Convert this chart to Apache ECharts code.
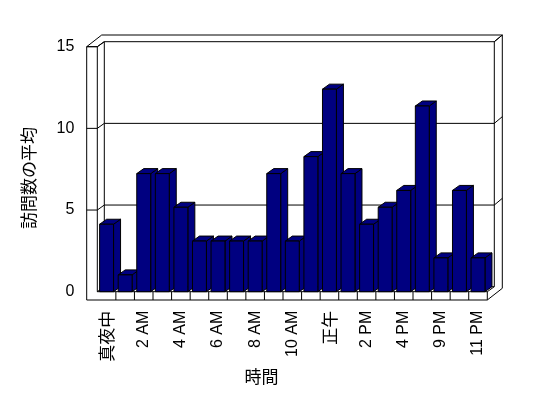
<!DOCTYPE html>
<html>
<head>
<meta charset="utf-8">
<script src="https://cdn.jsdelivr.net/npm/echarts@6/dist/echarts.min.js"></script>
<style>
  html, body { margin: 0; padding: 0; background: #fff; }
  #chart { width: 548px; height: 398px; }
</style>
</head>
<body>
<div id="chart"></div>
<script>
// datos
const horas = ['真夜中', '1 AM', '2 AM', '3 AM', '4 AM', '5 AM', '6 AM', '7 AM', '8 AM', '9 AM',
  '10 AM', '11 AM', '正午', '1 PM', '2 PM', '3 PM', '4 PM', '5 PM', '9 PM', '10 PM', '11 PM'];
const visitas = [4.13, 1.03, 7.23, 7.23, 5.17, 3.1, 3.1, 3.1, 3.1, 7.23, 3.1,
  8.27, 12.4, 7.23, 4.13, 5.17, 6.2, 11.37, 2.07, 6.2, 2.07];
const yTicks = [0, 5, 10, 15];

const DX = 7, DY = -5;        // profundidad
const BX = 8, BY = -6.7;      // grosor pared del fondo
const WALL = 10.6, FLOOR = 8.3;
const stroke = { stroke: '#000', lineWidth: 1 };

function line(pts) {
  return { type: 'polyline', shape: { points: pts }, style: Object.assign({ fill: null }, stroke) };
}

// paredes, suelo y rejilla
function renderFrame(params, api) {
  const cs = params.coordSys;
  const L = cs.x, R = cs.x + cs.width, T = cs.y, B = cs.y + cs.height;
  const children = [];
  children.push({
    type: 'polygon',
    shape: { points: [[L - WALL, T], [L - WALL + DX + BX, T + DY + BY], [R + DX + BX, T + DY + BY],
      [R + DX + BX, B + FLOOR + DY + BY], [R, B + FLOOR], [L - WALL, B + FLOOR]] },
    style: Object.assign({ fill: '#fff' }, stroke)
  });
  children.push(line([[L - WALL, T], [L, T], [L, B], [R, B], [R, B + FLOOR]]));
  children.push(line([[L, T], [L + DX, T + DY], [L + DX, B + DY], [R + DX, B + DY]]));
  children.push(line([[L, B], [L + DX, B + DY]]));
  children.push(line([[R, B], [R + DX, B + DY], [R + DX, T + DY], [R + DX + BX, T + DY + BY]]));
  yTicks.forEach(v => {
    const y = api.coord([0, v])[1];
    if (v === 0) return;
    children.push(line([[L - WALL, y], [L, y], [L + DX, y + DY], [R + DX, y + DY], [R + DX + BX, y + DY + BY]]));
  });
  const band = cs.width / horas.length;
  for (let i = 1; i < horas.length; i++) {
    const x = L + band * i;
    children.push(line([[x, B], [x, B + FLOOR]]));
  }
  return { type: 'group', children: children };
}

// barras 3D
function renderBar(params, api) {
  const i = api.value(0);
  const p = api.coord([i, api.value(1)]);
  const p0 = api.coord([i, 0]);
  const bw = api.size([1, 0])[0] * 0.75;
  const x = p[0] - bw / 2, y = p[1], yb = p0[1];
  const fillStyle = Object.assign({ fill: '#000080' }, stroke);
  return {
    type: 'group',
    children: [
      { type: 'polygon', shape: { points: [[x + bw, y], [x + bw + DX, y + DY], [x + bw + DX, yb + DY], [x + bw, yb]] }, style: fillStyle },
      { type: 'polygon', shape: { points: [[x, y], [x + DX, y + DY], [x + bw + DX, y + DY], [x + bw, y]] }, style: fillStyle },
      { type: 'rect', shape: { x: x, y: y, width: bw, height: yb - y }, style: fillStyle }
    ]
  };
}

const chart = echarts.init(document.getElementById('chart'));
chart.setOption({
  animation: false,
  textStyle: { fontFamily: 'Liberation Sans', color: '#000' },
  grid: { left: 97.3, right: 60.7, top: 46.7, bottom: 106.3 },
  xAxis: {
    type: 'category',
    data: horas,
    axisLine: { show: false },
    axisTick: { show: false },
    axisLabel: {
      interval: 1,
      rotate: 90,
      margin: 19,
      fontSize: 16,
      color: '#000',
      fontFamily: 'Liberation Sans',
      formatter: v => /[^\x00-\x7f]/.test(v) ? '{j|' + v + '}' : v,
      rich: { j: { fontFamily: 'Noto Sans CJK JP', fontSize: 17, color: '#000' } }
    }
  },
  yAxis: {
    type: 'value',
    min: 0,
    max: 15,
    interval: 5,
    axisLine: { show: false },
    axisTick: { show: false },
    splitLine: { show: false },
    axisLabel: { margin: 23, fontSize: 16, color: '#000', fontFamily: 'Liberation Sans' }
  },
  graphic: [
    { type: 'text', x: 28.5, y: 178, rotation: Math.PI / 2,
      style: { text: '訪問数の平均', fontFamily: 'Noto Sans CJK JP', fontSize: 17, fill: '#000', align: 'center', verticalAlign: 'middle' } },
    { type: 'text', x: 261.5, y: 377,
      style: { text: '時間', fontFamily: 'Noto Sans CJK JP', fontSize: 17, fill: '#000', align: 'center', verticalAlign: 'middle' } }
  ],
  series: [
    { type: 'custom', name: 'marco', renderItem: renderFrame, data: [[0, 0]], clip: false, z: 1, silent: true },
    { type: 'custom', name: '訪問数の平均', renderItem: renderBar, clip: false, z: 2,
      data: visitas.map((v, i) => [i, v]) }
  ]
});
window.addEventListener('resize', () => chart.resize());
</script>
</body>
</html>
